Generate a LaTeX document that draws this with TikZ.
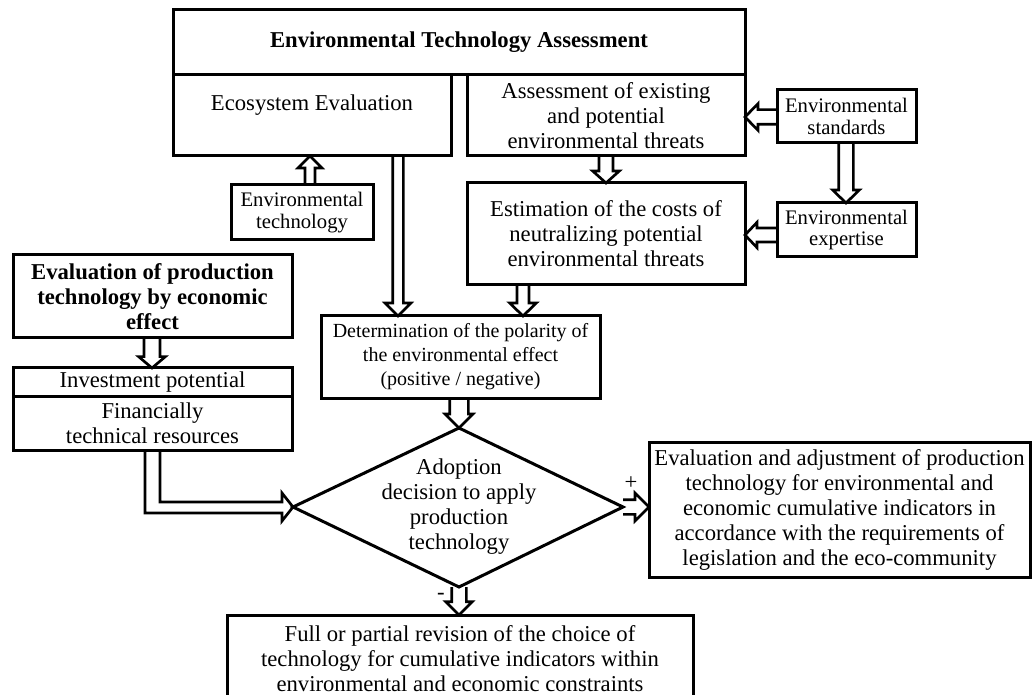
\documentclass[tikz,border=0pt]{standalone}
\usepackage{fontspec}
\setmainfont{Liberation Serif}
\usetikzlibrary{calc}
\pgfdeclarelayer{bg}
\pgfsetlayers{bg,main}
\newcommand\fmain{\fontsize{17}{18.75}\selectfont}
\newcommand\fsmall{\fontsize{15.5}{16}\selectfont}
\newcommand\fdet{\fontsize{15}{18}\selectfont}
% block arrow: #1 start, #2 end, #3 half shaft, #4 half head, #5 head length
\newcommand\barrow[5]{%
  \draw[barr] ($(#1)!#3!90:(#2)$) -- ($(#2)!#5!(#1)!#3!-90:(#1)$) -- ($(#2)!#5!(#1)!#4!-90:(#1)$) -- (#2) -- ($(#2)!#5!(#1)!#4!90:(#1)$) -- ($(#2)!#5!(#1)!#3!90:(#1)$) -- ($(#1)!#3!-90:(#2)$);}
\tikzset{
  box/.style={draw, line width=2.25pt, inner sep=0pt, outer sep=0pt, align=center, font=\fmain},
  dims/.style 2 args={minimum width=#1*0.75pt, minimum height=#2*0.75pt},
  barr/.style={draw, line width=2pt, fill=white, line join=miter, miter limit=4},
  txt/.style={inner sep=0pt, align=center, font=\fmain},
  dia/.style={draw, line width=2.25pt, line join=miter}
}
\begin{document}
\begin{tikzpicture}[x=0.75pt, y=-0.75pt]
\useasboundingbox (0,0) rectangle (1032,695);
% boxes
\node[box, dims={572}{65}, font=\fmain\bfseries] (top) at (459,42.5) {Environmental Technology Assessment};
\node[box, dims={278}{81}] (eco) at (312,115.5) {};
\node[txt] (ecot) at (312,105) {Ecosystem Evaluation};
\node[box, dims={278}{81}] (assess) at (606,115.5) {Assessment of existing\\and potential\\environmental threats};
\node[box, dims={139}{53}, font=\fsmall] (envstd) at (846.5,116.5) {Environmental\\standards};
\node[box, dims={142}{55}, font=\fsmall] (envtech) at (302,212.5) {Environmental\\technology};
\node[box, dims={278}{102}] (estim) at (606,234) {Estimation of the costs of\\neutralizing potential\\environmental threats};
\node[box, dims={139}{54}, font=\fsmall] (envexp) at (846.5,230) {Environmental\\expertise};
\node[box, dims={279}{83}, font=\fmain\bfseries] (evalprod) at (152.5,296.5) {Evaluation of production\\technology by economic\\effect};
\node[box, dims={279}{28}] (invest) at (152.5,382) {Investment potential};
\node[box, dims={279}{54}] (fin) at (152.5,423) {Financially\\technical resources};
\node[box, dims={279}{82}, font=\fdet] (determ) at (460.5,357) {Determination of the polarity of\\the environmental effect\\(positive / negative)};
\coordinate (dtop) at (459,428);
\coordinate (dleft) at (293,507);
\coordinate (dright) at (623,507);
\coordinate (dbot) at (459,587);
\draw[dia] (dtop) -- (dright) -- (dbot) -- (dleft) -- cycle;
\node[txt] (dec) at (459,507) {Adoption\\decision to apply\\production\\technology};
\node[box, dims={381}{135}] (evaladj) at (839.5,509.5) {Evaluation and adjustment of production\\technology for environmental and\\economic cumulative indicators in\\accordance with the requirements of\\legislation and the eco-community};
\node[box, dims={466}{88}] (rev) at (460,659) {Full or partial revision of the choice of\\technology for cumulative indicators within\\environmental and economic constraints};
\node[txt] (plus) at (631,483) {+};
\node[txt] (minus) at (441,596) {-};
% helper coordinates
\coordinate (x1) at (310,0);
\coordinate (x2) at (398,0);
\coordinate (x3) at (606,0);
\coordinate (x5) at (846,0);
\coordinate (x7) at (523,0);
\coordinate (x8) at (152,0);
\coordinate (x9) at (459,0);
\coordinate (y4) at (0,117);
\coordinate (y6) at (0,235);
\coordinate (y11) at (0,507);
\coordinate (e1) at (145,513);
\coordinate (e2) at (160,502);
\begin{pgfonlayer}{bg}
\barrow{envtech.north -| x1}{eco.south -| x1}{3.75pt}{9pt}{9pt}
\barrow{eco.south -| x2}{determ.north -| x2}{4pt}{9.75pt}{9.75pt}
\barrow{assess.south -| x3}{estim.north -| x3}{5.25pt}{10pt}{9pt}
\barrow{envstd.west |- y4}{assess.east |- y4}{5.5pt}{10pt}{9.75pt}
\barrow{envstd.south -| x5}{envexp.north -| x5}{5.5pt}{10pt}{9.75pt}
\barrow{envexp.west |- y6}{estim.east |- y6}{5.25pt}{9.5pt}{9pt}
\barrow{estim.south -| x7}{determ.north -| x7}{4.5pt}{10pt}{9.75pt}
\barrow{evalprod.south -| x8}{invest.north -| x8}{6pt}{10pt}{8.5pt}
\barrow{determ.south -| x9}{dtop}{7pt}{10.5pt}{10.5pt}
\barrow{dright}{evaladj.west |- y11}{5.5pt}{10.5pt}{10.5pt}
\barrow{dbot}{rev.north -| x9}{5.5pt}{10pt}{10pt}
\draw[barr] (fin.south -| e1) -- (e1) -- (282,513) -- (282,521) -- (dleft) -- (282,493) -- (282,502) -- (e2) -- (fin.south -| e2);
\end{pgfonlayer}
\end{tikzpicture}
\end{document}
